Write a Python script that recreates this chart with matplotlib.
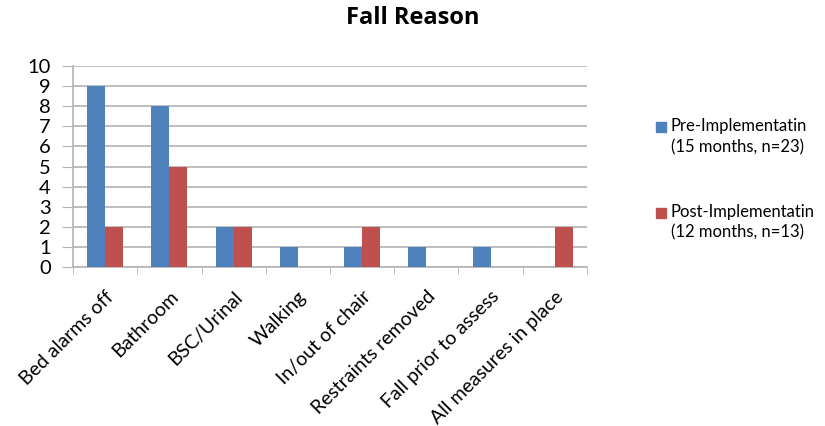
import numpy as np
import matplotlib
matplotlib.use('Agg')
import matplotlib.pyplot as plt
from matplotlib.patches import Rectangle

plt.rcParams['font.family'] = ['Lato', 'DejaVu Sans']

categories = ['Bed alarms off', 'Bathroom', 'BSC/Urinal', 'Walking',
              'In/out of chair', 'Restraints removed', 'Fall prior to assess',
              'All measures in place']
pre_counts = [9, 8, 2, 1, 1, 1, 1, 0]
post_counts = [2, 5, 2, 0, 2, 0, 0, 2]
series_labels = ['Pre-Implementatin\n(15 months, n=23)',
                 'Post-Implementatin\n(12 months, n=13)']
y_ticks = list(range(0, 11))

BLUE = '#4F81BD'
RED = '#C0504D'
GRID = '#B3B3B3'

fig = plt.figure(figsize=(8.25, 4.26), dpi=100)
ax = fig.add_axes([0.0885, 0.373, 0.623, 0.472])

x = np.arange(len(categories))
width = 0.28
ax.bar(x - width / 2, pre_counts, width, color=BLUE, zorder=3)
ax.bar(x + width / 2, post_counts, width, color=RED, zorder=3)

ax.set_xlim(-0.5, len(categories) - 0.5)
ax.set_ylim(0, 10)
ax.set_yticks(y_ticks)
ax.tick_params(axis='y', labelsize=14.5, length=8, color=GRID, pad=8)
ax.yaxis.grid(True, color=GRID, linewidth=1.2, zorder=0)

# category labels under each group, tick marks on the group boundaries
ax.set_xticks(x)
ax.set_xticklabels(categories, rotation=45, ha='right', rotation_mode='anchor',
                   fontsize=14)
ax.tick_params(axis='x', length=0, pad=15)
ax.set_xticks(np.arange(-0.5, len(categories)), minor=True)
ax.tick_params(axis='x', which='minor', length=5, color=GRID)

for side in ['top', 'right']:
    ax.spines[side].set_visible(False)
for side in ['left', 'bottom']:
    ax.spines[side].set_color(GRID)
    ax.spines[side].set_linewidth(1.2)

fig.text(0.5, 0.957, 'Fall Reason', ha='center', va='center',
         fontsize=17, fontweight='bold', family=['Open Sans', 'DejaVu Sans'])

# legend: square key next to the first line of each two-line label
key_w, key_h = 10 / 825, 10 / 426
for (top, color, label) in [(0.722, BLUE, series_labels[0]),
                            (0.522, RED, series_labels[1])]:
    fig.patches.append(Rectangle((0.795, top - 0.033), key_w, key_h,
                                 transform=fig.transFigure, color=color))
    fig.text(0.813, top, label, ha='left', va='top', fontsize=12,
             linespacing=1.35)

fig.savefig('out.png', dpi=100)
